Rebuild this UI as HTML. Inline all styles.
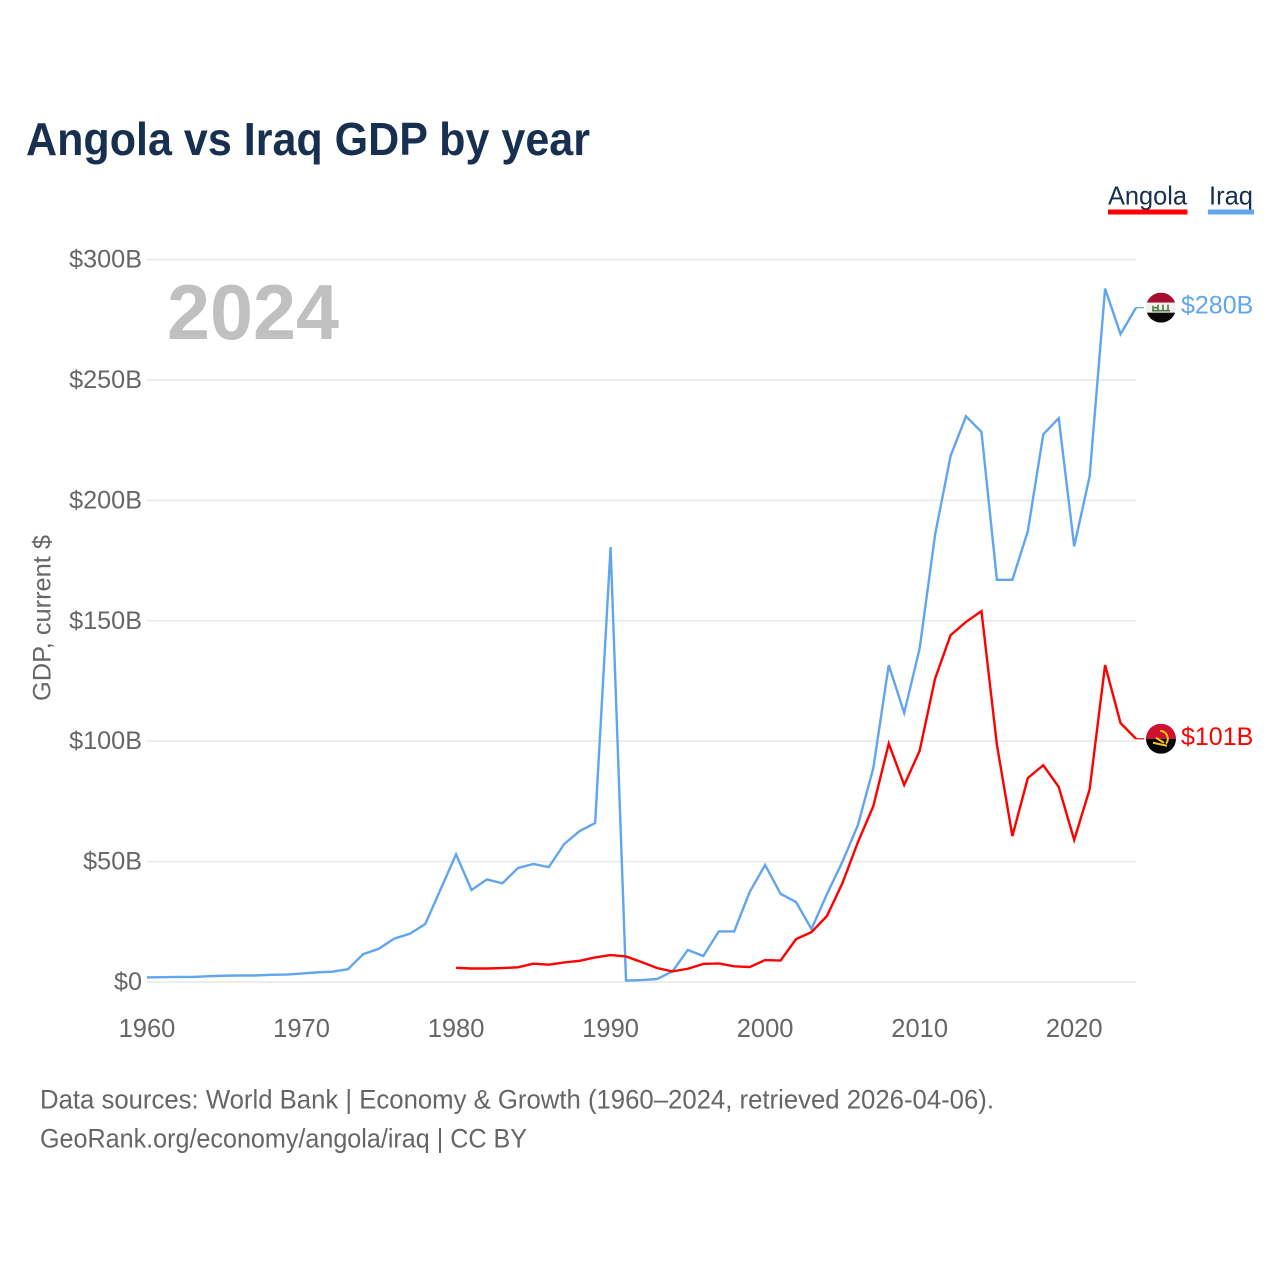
<!DOCTYPE html>
<html lang="en">
<head>
<meta charset="utf-8">
<title>Angola vs Iraq GDP by year</title>
<style>
html,body{margin:0;padding:0;background:#fff;}
svg{display:block;}
text{font-family:"Liberation Sans",sans-serif;}
</style>
</head>
<body>
<svg id="chart" width="1280" height="1280" viewBox="0 0 1280 1280" xmlns="http://www.w3.org/2000/svg">
  <defs>
    <clipPath id="flag-clip"><circle cx="0" cy="0" r="15"></circle></clipPath>
  </defs>
  <rect x="0" y="0" width="1280" height="1280" fill="#ffffff"></rect>
  <text x="26" y="155" font-size="46" font-weight="700" fill="#18304f" textLength="564" lengthAdjust="spacingAndGlyphs">Angola vs Iraq GDP by year</text>

  <g>
    <text x="1108" y="204.5" font-size="26" fill="#18304f" textLength="79" lengthAdjust="spacingAndGlyphs">Angola</text>
    <rect x="1108" y="209.5" width="79.5" height="5" fill="#ff0000"></rect>
    <text x="1209" y="204.5" font-size="26" fill="#18304f" textLength="44" lengthAdjust="spacingAndGlyphs">Iraq</text>
    <rect x="1208" y="209.5" width="46" height="5" fill="#60a5ee"></rect>
  </g>

  <g id="grid"></g>
  <g id="y-ticks"></g>
  <g id="x-ticks"></g>

  <text transform="translate(50.5 618) rotate(-90)" text-anchor="middle" font-size="25" fill="#666666" textLength="166" lengthAdjust="spacingAndGlyphs">GDP, current $</text>
  <text id="year-label" x="167" y="339" font-size="78" font-weight="700" fill="#c0c0c0" textLength="172" lengthAdjust="spacingAndGlyphs"></text>

  <g id="series"></g>
  <g id="end-labels"></g>

  <text x="40" y="1108.5" font-size="26.5" fill="#666666" textLength="954" lengthAdjust="spacingAndGlyphs">Data sources: World Bank | Economy &amp; Growth (1960–2024, retrieved 2026-04-06).</text>
  <text x="40" y="1147.5" font-size="26.5" fill="#666666" textLength="487" lengthAdjust="spacingAndGlyphs">GeoRank.org/economy/angola/iraq | CC BY</text>
</svg>
<script>
const firstYear = 1960;
const lastYear = 2024;
const yTicks = [0, 50, 100, 150, 200, 250, 300];
const yTickLabels = ["$0", "$50B", "$100B", "$150B", "$200B", "$250B", "$300B"];
const xTicks = [1960, 1970, 1980, 1990, 2000, 2010, 2020];
const xTickLabels = ["1960", "1970", "1980", "1990", "2000", "2010", "2020"];

const iraqStartYear = 1960;
const iraqGdp = [1.9, 2.0, 2.1, 2.1, 2.4, 2.6, 2.7, 2.7, 3.0, 3.1, 3.5, 4.0, 4.3, 5.3,
  11.6, 13.8, 18.0, 20.0, 24.0, 38.5, 53.0, 38.2, 42.6, 41.0, 47.3, 49.0, 47.7, 57.3, 62.7, 66.0,
  180.6, 0.6, 0.8, 1.2, 4.4, 13.3, 10.8, 21.0, 21.0, 37.4,
  48.6, 36.6, 33.2, 22.0, 36.5, 49.9, 65.1, 88.8, 131.6, 111.7,
  138.5, 185.8, 218.4, 234.9, 228.4, 167.0, 167.0, 187.2, 227.4, 234.1,
  180.9, 210.0, 287.9, 269.0, 280.0];

const angolaStartYear = 1980;
const angolaGdp = [5.9, 5.6, 5.6, 5.8, 6.1, 7.6, 7.2, 8.1, 8.8, 10.2,
  11.2, 10.6, 8.3, 5.8, 4.4, 5.5, 7.5, 7.7, 6.5, 6.2,
  9.1, 8.9, 17.8, 20.7, 27.4, 41.0, 58.0, 73.0, 99.0, 81.8,
  96.0, 126.0, 144.0, 149.5, 154.0, 98.5, 60.6, 84.7, 90.0, 81.0,
  59.0, 80.0, 131.6, 107.5, 101.0];

const NS = "http://www.w3.org/2000/svg";
const x0 = 147, x1 = 1136, y0 = 982, y300 = 259.5;
function xScale(year) { return x0 + (year - firstYear) * (x1 - x0) / (lastYear - firstYear); }
function yScale(v) { return y0 - v * (y0 - y300) / 300; }
function make(tag, attrs, parent, txt) {
  const el = document.createElementNS(NS, tag);
  for (const k in attrs) el.setAttribute(k, attrs[k]);
  if (txt !== undefined) el.textContent = txt;
  parent.appendChild(el);
  return el;
}

const grid = document.getElementById("grid");
const yt = document.getElementById("y-ticks");
yTicks.forEach(function (v, i) {
  const line = make("line", {x1: x0, x2: x1, y1: yScale(v), y2: yScale(v), stroke: "#e7e7e7", "stroke-width": 1.5}, grid);
  
  
  const t = make("text", {x: 142, y: yScale(v) + 8, "text-anchor": "end", "font-size": 25.2, fill: "#666666"}, yt, yTickLabels[i]);
  
  
});

const xt = document.getElementById("x-ticks");
xTicks.forEach(function (yr, i) {
  const t = make("text", {x: xScale(yr), y: 1037, "text-anchor": "middle", "font-size": 25.5, fill: "#666666"}, xt, xTickLabels[i]);
  
  
});

document.getElementById("year-label").textContent = String(lastYear);

function linePoints(values, startYear) {
  return values.map(function (v, i) {
    return xScale(startYear + i).toFixed(2) + "," + yScale(v).toFixed(2);
  }).join(" ");
}
const seriesLayer = document.getElementById("series");
const iraqLine = make("polyline", {points: linePoints(iraqGdp, iraqStartYear), fill: "none", stroke: "#60a5ee", "stroke-width": 2.4, "stroke-linejoin": "miter"}, seriesLayer);


const angolaLine = make("polyline", {points: linePoints(angolaGdp, angolaStartYear), fill: "none", stroke: "#ff0000", "stroke-width": 2.4, "stroke-linejoin": "miter"}, seriesLayer);



const endLayer = document.getElementById("end-labels");

// Iraq end marker
const iraqLast = iraqGdp[iraqGdp.length - 1];
const iraqY = yScale(iraqLast);
const iraqConn = make("line", {x1: x1, x2: 1144, y1: iraqY, y2: iraqY, stroke: "#60a5ee", "stroke-width": 1.2}, endLayer);


const iraqFlag = make("g", {transform: "translate(1161 " + iraqY + ")", "clip-path": "url(#flag-clip)"}, endLayer);


make("rect", {x: -15, y: -15, width: 30, height: 10, fill: "#a50f2d"}, iraqFlag);
make("rect", {x: -15, y: -5, width: 30, height: 10, fill: "#f2f2f2"}, iraqFlag);
make("rect", {x: -15, y: 5, width: 30, height: 10, fill: "#0a0a0a"}, iraqFlag);
make("path", {d: "M-9 3H9M-8 -2V3M-3 -3V3M2 -3V3M7 -3V3M-7 0H-3", stroke: "#4f7a3a", "stroke-width": 1.6, fill: "none"}, iraqFlag);
const iraqValue = make("text", {x: 1181, y: iraqY + 6, "font-size": 25, fill: "#60a5ee"}, endLayer, "$" + Math.round(iraqLast) + "B");



// Angola end marker
const angolaLast = angolaGdp[angolaGdp.length - 1];
const angolaY = yScale(angolaLast);
const angolaConn = make("line", {x1: x1, x2: 1144, y1: angolaY, y2: angolaY, stroke: "#ff0000", "stroke-width": 1.2}, endLayer);


const angolaFlag = make("g", {transform: "translate(1161 " + angolaY + ")", "clip-path": "url(#flag-clip)"}, endLayer);


make("rect", {x: -15, y: -15, width: 30, height: 15, fill: "#d0102f"}, angolaFlag);
make("rect", {x: -15, y: 0, width: 30, height: 15, fill: "#050505"}, angolaFlag);
make("path", {d: "M-1 -8A8 8 0 0 1 5 5M-8 4L6 7M-5 -1L3 4", stroke: "#f5c518", "stroke-width": 2, fill: "none"}, angolaFlag);
const angolaValue = make("text", {x: 1181, y: angolaY + 6, "font-size": 25, fill: "#ff0000"}, endLayer, "$" + Math.round(angolaLast) + "B");


</script>
</body>
</html>
